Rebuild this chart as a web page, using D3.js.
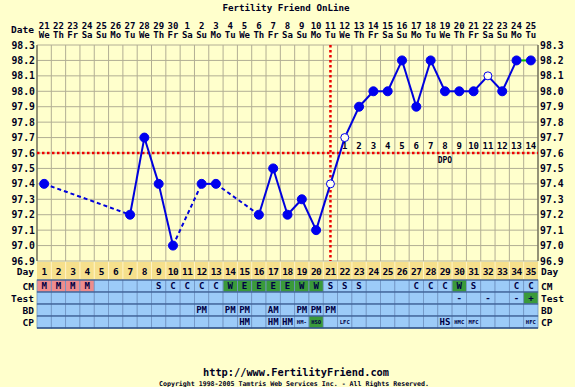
<!DOCTYPE html>
<html>
<head>
<meta charset="utf-8">
<script src="https://cdn.jsdelivr.net/npm/d3@7"></script>
<style>
	body {margin: 0; background: #ffffcc;}
	svg text {font-family: "DejaVu Sans Mono", monospace; font-weight: bold; fill: #000022;}
</style>
</head>
<body>
<div id="chart"><svg width="575" height="387"></svg></div>
<script>

// data
const days = [1,2,3,4,5,6,7,8,9,10,11,12,13,14,15,16,17,18,19,20,21,22,23,24,25,26,27,28,29,30,31,32,33,34,35];
const dates = ["21","22","23","24","25","26","27","28","29","30","1","2","3","4","5","6","7","8","9","10","11","12","13","14","15","16","17","18","19","20","21","22","23","24","25"];
const weekdays = ["We","Th","Fr","Sa","Su","Mo","Tu","We","Th","Fr","Sa","Su","Mo","Tu","We","Th","Fr","Sa","Su","Mo","Tu","We","Th","Fr","Sa","Su","Mo","Tu","We","Th","Fr","Sa","Su","Mo","Tu"];
const temps = [97.4,null,null,null,null,null,97.2,97.7,97.4,97.0,null,97.4,97.4,null,null,97.2,97.5,97.2,97.3,97.1,97.4,97.7,97.9,98.0,98.0,98.2,97.9,98.2,98.0,98.0,98.0,98.1,98.0,98.2,98.2];
const openDays = [21, 22, 32];
const yTicks = [96.9,97.0,97.1,97.2,97.3,97.4,97.5,97.6,97.7,97.8,97.9,98.0,98.1,98.2,98.3];
const coverline = 97.6;
const ovulationDay = 21;
const dpoDays = [22,23,24,25,26,27,28,29,30,31,32,33,34,35];
const dpoLabels = ["1","2","3","4","5","6","7","8","9","10","11","12","13","14"];

const cm   = ["M","M","M","M","","","","","S","C","C","C","C","W","E","E","E","E","W","W","S","S","S","","","","C","C","C","W","S","","","C","C"];
const test = ["","","","","","","","","","","","","","","","","","","","","","","","","","","","","","-","","-","","-","+"];
const bd   = ["","","","","","","","","","","","PM","","PM","PM","","AM","","PM","PM","PM","","","","","","","","","","","","","",""];
const cp   = ["","","","","","","","","","","","","","","HM","","HM","HM","HM-","HSO","","LFC","","","","","","","HS","HMC","MFC","","","","HFC"];

const rowNames = ["CM", "Test", "BD", "CP"];
const rowData = [cm, test, bd, cp];

// setup
const svg = d3.select("#chart").select("svg");
const plotLeft = 37, plotRight = 538, plotTop = 45, plotBottom = 261;

const xScale = d3.scaleLinear().domain([0.5, 35.5]).range([plotLeft, plotRight]);
const yScale = d3.scaleLinear().domain([96.9, 98.3]).range([plotBottom, plotTop]);
const colW = xScale(2) - xScale(1);

// title
svg.append("text")
	.attr("x", 286).attr("y", 11)
	.attr("text-anchor", "middle")
	.style("font-size", "9.2px")
	.text("Fertility Friend OnLine");

// header dates
svg.append("text").attr("x", 34).attr("y", 33).attr("text-anchor", "end")
	.style("font-size", "9.5px").text("Date");

svg.selectAll(".dateLabel")
  .data(days)
	.enter()
  .append("text")
	.attr("class", "dateLabel")
	.attr("x", d => xScale(d))
	.attr("y", 29)
	.attr("text-anchor", "middle")
	.style("font-size", "9px")
	.text((d, i) => dates[i]);

svg.selectAll(".wdLabel")
  .data(days)
	.enter()
  .append("text")
	.attr("class", "wdLabel")
	.attr("x", d => xScale(d))
	.attr("y", 38)
	.attr("text-anchor", "middle")
	.style("font-size", "9px")
	.text((d, i) => weekdays[i]);

// grid
const grid = svg.append("g");

grid.selectAll(".hGrid")
  .data(yTicks)
	.enter()
  .append("line")
	.attr("x1", plotLeft).attr("x2", plotRight)
	.attr("y1", d => yScale(d)).attr("y2", d => yScale(d))
	.attr("stroke", "#b2ae94")
	.attr("stroke-width", 1);

grid.selectAll(".vGrid")
  .data(days.concat([0]))
	.enter()
  .append("line")
	.attr("x1", d => xScale(d + 0.5)).attr("x2", d => xScale(d + 0.5))
	.attr("y1", plotTop).attr("y2", plotBottom)
	.attr("stroke", "#b2ae94")
	.attr("stroke-width", 1);

grid.append("line").attr("x1", plotLeft).attr("x2", plotLeft).attr("y1", plotTop).attr("y2", plotBottom)
	.attr("stroke", "#66654f").attr("stroke-width", 1.2);
grid.append("line").attr("x1", plotRight).attr("x2", plotRight).attr("y1", plotTop).attr("y2", plotBottom)
	.attr("stroke", "#66654f").attr("stroke-width", 1.2);

// y labels both sides
svg.selectAll(".yLabelL")
  .data(yTicks)
	.enter()
  .append("text")
	.attr("x", 35).attr("y", d => yScale(d) + 3.5)
	.attr("text-anchor", "end")
	.style("font-size", "9.8px")
	.text(d => d.toFixed(1));

svg.selectAll(".yLabelR")
  .data(yTicks)
	.enter()
  .append("text")
	.attr("x", 540).attr("y", d => yScale(d) + 3.5)
	.attr("text-anchor", "start")
	.style("font-size", "9.8px")
	.text(d => d.toFixed(1));

// coverline and ovulation line
svg.append("line")
	.attr("x1", plotLeft).attr("x2", plotRight)
	.attr("y1", yScale(coverline)).attr("y2", yScale(coverline))
	.attr("stroke", "#ee0000").attr("stroke-width", 2.5)
	.attr("stroke-dasharray", "2.5,2.5");

svg.append("line")
	.attr("x1", xScale(ovulationDay)).attr("x2", xScale(ovulationDay))
	.attr("y1", plotTop).attr("y2", plotBottom)
	.attr("stroke", "#ee0000").attr("stroke-width", 2.5)
	.attr("stroke-dasharray", "2.5,2.5");

// DPO
svg.selectAll(".dpo")
  .data(dpoDays)
	.enter()
  .append("text")
	.attr("x", d => xScale(d))
	.attr("y", yScale(coverline) - 4)
	.attr("text-anchor", "middle")
	.style("font-size", "9px")
	.text((d, i) => dpoLabels[i]);

svg.append("text")
	.attr("x", xScale(29)).attr("y", yScale(coverline) + 10)
	.attr("text-anchor", "middle")
	.style("font-size", "8px")
	.text("DPO");

// temperature line
const points = days.map((d, i) => ({day: d, temp: temps[i]})).filter(d => d.temp !== null);
const segments = d3.pairs(points);
const lastDay = days[days.length - 1];

svg.selectAll(".seg")
  .data(segments)
	.enter()
  .append("line")
	.attr("x1", d => xScale(d[0].day)).attr("y1", d => yScale(d[0].temp))
	.attr("x2", d => xScale(d[1].day)).attr("y2", d => yScale(d[1].temp))
	.attr("stroke", d => d[1].day === lastDay ? "#00c000" : "#0000dd")
	.attr("stroke-width", 2)
	.attr("stroke-dasharray", d => d[1].day - d[0].day > 1 ? "4,3" : null);

svg.selectAll(".dot")
  .data(points)
	.enter()
  .append("circle")
	.attr("cx", d => xScale(d.day))
	.attr("cy", d => yScale(d.temp))
	.attr("r", d => openDays.includes(d.day) ? 4 : 4.5)
	.attr("fill", d => openDays.includes(d.day) ? "#fffff0" : "#0000ee")
	.attr("stroke", "#0000ee")
	.attr("stroke-width", 1);

// bottom rows
const dayTop = 262, dayBot = 280, rowH = 12;

svg.append("rect")
	.attr("x", plotLeft).attr("y", dayTop)
	.attr("width", plotRight - plotLeft).attr("height", dayBot - dayTop)
	.attr("fill", "#f6e08c");

svg.selectAll(".dayLine")
  .data(days.slice(0, -1))
	.enter()
  .append("line")
	.attr("x1", d => xScale(d + 0.5)).attr("x2", d => xScale(d + 0.5))
	.attr("y1", dayTop).attr("y2", dayBot)
	.attr("stroke", "#fff4c8").attr("stroke-width", 1);

svg.selectAll(".dayNum")
  .data(days)
	.enter()
  .append("text")
	.attr("x", d => xScale(d)).attr("y", 275)
	.attr("text-anchor", "middle")
	.style("font-size", "9.5px")
	.style("letter-spacing", "-0.5px")
	.text(d => d);

svg.append("text").attr("x", 34).attr("y", 275).attr("text-anchor", "end")
	.style("font-size", "9.5px").text("Day");
svg.append("text").attr("x", 541).attr("y", 275).attr("text-anchor", "start")
	.style("font-size", "9.5px").text("Day");

function cellColor(row, v) {
	if (row === 0 && v === "M") return "#ee8c8c";
	if (row === 0 && (v === "W" || v === "E")) return "#3a9a3a";
	if (row === 1 && v === "+") return "#3a9a3a";
	if (row === 3 && v === "HSO") return "#3a9a3a";
	return "#9ccbf8";
}

rowData.forEach((vals, r) => {
	const y0 = dayBot + r * rowH;
	const g = svg.append("g");
	
	g.selectAll("rect")
	  .data(days)
		.enter()
	  .append("rect")
		.attr("x", d => xScale(d - 0.5)).attr("y", y0)
		.attr("width", colW).attr("height", rowH)
		.attr("fill", (d, i) => cellColor(r, vals[i]))
		.attr("stroke", "#6f93c4").attr("stroke-width", 0.8);
	
	g.selectAll("text")
	  .data(days)
		.enter()
	  .append("text")
		.attr("x", d => xScale(d)).attr("y", (d, i) => y0 + (vals[i].length > 2 ? 8 : 9))
		.attr("text-anchor", "middle")
		.style("font-size", (d, i) => vals[i].length > 2 ? "5.5px" : "9px")
		.style("fill", "#000044")
		.text((d, i) => vals[i]);
	
	svg.append("text").attr("x", 34).attr("y", y0 + 9.5).attr("text-anchor", "end")
		.style("font-size", "9.5px").text(rowNames[r]);
	svg.append("text").attr("x", 541).attr("y", y0 + 9.5).attr("text-anchor", "start")
		.style("font-size", "9.5px").text(rowNames[r]);
	
	g.append("line")
		.attr("x1", plotLeft).attr("x2", plotRight).attr("y1", y0).attr("y2", y0)
		.attr("stroke", "#2d4f86").attr("stroke-width", 1.2);
});

svg.append("line")
	.attr("x1", plotLeft).attr("x2", plotRight)
	.attr("y1", dayBot + 4 * rowH).attr("y2", dayBot + 4 * rowH)
	.attr("stroke", "#2d4f86").attr("stroke-width", 1.5);

// footer
svg.append("text")
	.attr("x", 296).attr("y", 376)
	.attr("text-anchor", "middle")
	.style("font-size", "10.3px")
	.text("http://www.FertilityFriend.com");

svg.append("text")
	.attr("x", 294).attr("y", 385.5)
	.attr("text-anchor", "middle")
	.style("font-size", "6.6px")
	.text("Copyright 1998-2005 Tamtris Web Services Inc. - All Rights Reserved.");

</script>
</body>
</html>
